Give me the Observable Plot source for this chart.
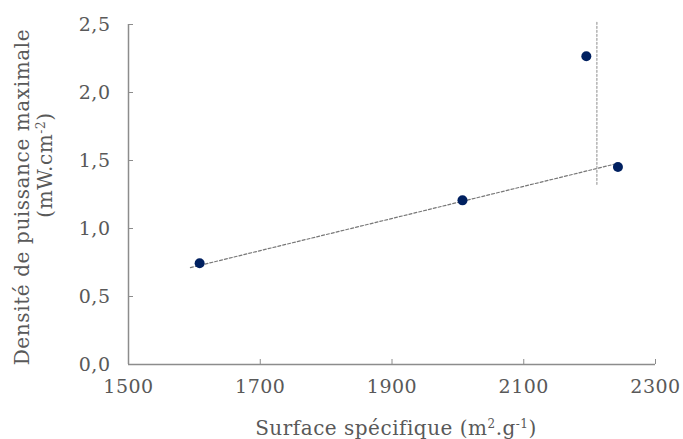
<!DOCTYPE html>
<html>
<head>
<meta charset="utf-8">
<script src="https://cdn.jsdelivr.net/npm/d3@7"></script>
<script src="https://cdn.jsdelivr.net/npm/@observablehq/plot@0.6"></script>
<style>
  html, body { margin: 0; padding: 0; background: #fff; }
  svg { display: block; }
</style>
</head>
<body>
<div id="chart"></div>
<script>
// Data
const surface = [1608, 2007, 2195, 2243];
const puissance = [0.745, 1.207, 2.266, 1.452];
// dashed trend line (end points)
const trendX = [1594, 2237];
const trendY = [0.712, 1.472];
// dotted vertical line
const vertX = [2211, 2211];
const vertY = [1.325, 2.524];

const xTicks = [1500, 1700, 1900, 2100, 2300];
const yTicks = [0, 0.5, 1, 1.5, 2, 2.5];

const xTitle = ["Surface spécifique (m", "2", ".g", "-1", ")"];
const yTitle1 = "Densité de puissance maximale";
const yTitle2 = ["(mW.cm", "-2", ")"];

const points = surface.map((x, i) => ({x, y: puissance[i]}));
const trend = trendX.map((x, i) => ({x, y: trendY[i]}));
const vert = vertX.map((x, i) => ({x, y: vertY[i]}));

const font = "'DejaVu Serif', serif";
const grey = "#595959";
const axisGrey = "#8c8c8c";

const plot = Plot.plot({
  width: 683,
  height: 439,
  marginLeft: 128,
  marginRight: 28,
  marginTop: 24,
  marginBottom: 75,
  style: {fontFamily: font, fontSize: "19px", color: grey, background: "#fff", letterSpacing: "0.5px"},
  x: {domain: [1500, 2300], ticks: xTicks},
  y: {domain: [0, 2.5], ticks: yTicks},
  marks: [
    Plot.axisX({ticks: xTicks, tickSize: 0, tickPadding: 15, label: null, tickFormat: d => String(d), fill: grey}),
    Plot.axisX({ticks: xTicks.slice(1), tickSize: -5, text: null, label: null, stroke: axisGrey}),
    Plot.axisY({ticks: yTicks, tickSize: 0, tickPadding: 18, label: null,
      tickFormat: d => d3.format(".1f")(d).replace(".", ","), fill: grey}),
    Plot.axisY({ticks: yTicks.slice(1), tickSize: -5, text: null, label: null, stroke: axisGrey}),
    Plot.ruleX([1500], {stroke: axisGrey, strokeWidth: 1.5}),
    Plot.ruleY([0], {stroke: axisGrey, strokeWidth: 1.5}),
    Plot.line(trend, {x: "x", y: "y", stroke: "#777", strokeWidth: 1.2, strokeDasharray: "3,2"}),
    Plot.line(vert, {x: "x", y: "y", stroke: "#a6a6a6", strokeWidth: 1.3, strokeDasharray: "2,2"}),
    Plot.dot(points, {x: "x", y: "y", r: 5, fill: "#002060", stroke: "none"})
  ]
});

const svg = d3.select(plot);
// x axis title
const xt = svg.append("text")
  .attr("x", 396).attr("y", 435)
  .attr("text-anchor", "middle")
  .attr("fill", grey)
  .style("font-family", font).style("font-size", "20px").style("letter-spacing", "0.5px");
xTitle.forEach((s, i) => {
  const t = xt.append("tspan").text(s);
  if (i % 2 === 1) t.attr("baseline-shift", "super").style("font-size", "12px");
});
// y axis title (two lines)
svg.append("text")
  .attr("transform", "translate(29,197) rotate(-90)")
  .attr("text-anchor", "middle")
  .attr("fill", grey)
  .style("font-family", font).style("font-size", "20px").style("letter-spacing", "0.6px")
  .text(yTitle1);
const l2 = svg.append("text")
  .attr("transform", "translate(52,165) rotate(-90)")
  .attr("text-anchor", "middle")
  .attr("fill", grey)
  .style("font-family", font).style("font-size", "20px").style("letter-spacing", "0.6px");
yTitle2.forEach((s, i) => {
  const t = l2.append("tspan").text(s);
  if (i % 2 === 1) t.attr("baseline-shift", "super").style("font-size", "12px");
});

document.getElementById("chart").appendChild(plot);
</script>
</body>
</html>
